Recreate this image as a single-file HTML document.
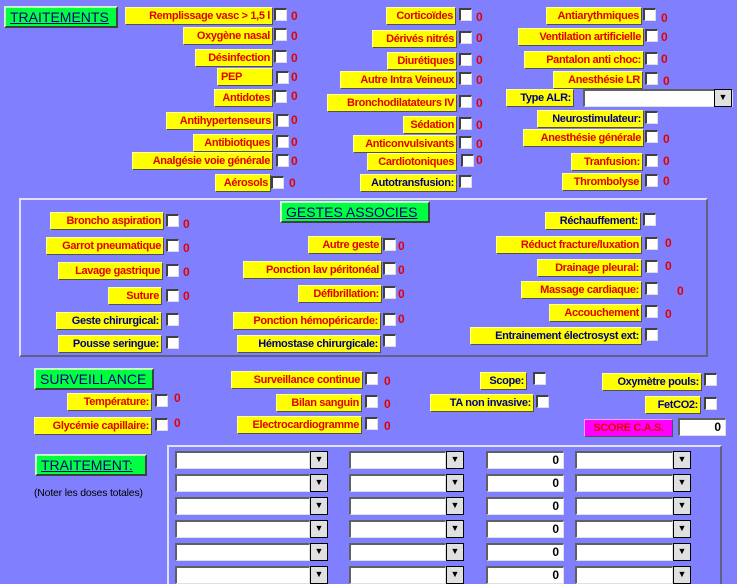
<!DOCTYPE html>
<html><head><meta charset="utf-8"><style>
html,body{margin:0;width:737px;height:584px;overflow:hidden}
body{background:#8080ff;position:relative;font-family:"Liberation Sans",sans-serif}
.l{position:absolute;height:18px;line-height:16px;background:#ffff00;color:#e00000;font-weight:bold;font-size:11px;letter-spacing:-0.35px;text-align:right;padding-right:2px;box-sizing:border-box;white-space:nowrap;overflow:hidden;border:1px solid;border-color:#ffffa0 #505050 #505050 #ffffa0}
.b{color:#000080}
.c{position:absolute;width:13px;height:13px;background:#fff;box-sizing:border-box;border-top:2px solid #404040;border-left:2px solid #404040;border-right:1px solid #ddd;border-bottom:1px solid #ddd}
.z{position:absolute;color:#e00000;font-weight:bold;font-size:12px}
.g{position:absolute;background:#00ff40;color:#000080;font-size:14px;line-height:18px;height:22px;box-sizing:border-box;padding-left:4px;border:2px solid;border-color:#c0ffc0 #404040 #404040 #c0ffc0;white-space:nowrap;overflow:hidden}
.i{position:absolute;height:18px;background:#fff;box-sizing:border-box;border-top:2px solid #606060;border-left:2px solid #606060;border-bottom:1px solid #e0e0e0;border-right:1px solid #e0e0e0;font:bold 12px "Liberation Sans",sans-serif;text-align:right;padding-right:4px;line-height:15px}
.k{position:absolute;width:18px;height:18px;background:#e0e0e0;box-sizing:border-box;border:1px solid #000;font-size:9px;text-align:center;line-height:15px}
.box{position:absolute;border:2px solid;border-color:#e0e0ff #606080 #606080 #e0e0ff;box-sizing:border-box}
</style></head><body>
<div class="g" style="left:4px;top:6px;width:114px;text-decoration:underline">TRAITEMENTS</div>

<div class="l" style="left:125px;top:7px;width:148px">Remplissage vasc &gt; 1,5 l</div><div class="c" style="left:274px;top:8px"></div><div class="z" style="left:291px;top:9px">0</div>
<div class="l" style="left:183px;top:27px;width:90px">Oxygène nasal</div><div class="c" style="left:274px;top:28px"></div><div class="z" style="left:291px;top:29px">0</div>
<div class="l" style="left:195px;top:49px;width:78px">Désinfection</div><div class="c" style="left:274px;top:50px"></div><div class="z" style="left:291px;top:51px">0</div>
<div class="l" style="left:217px;top:68px;width:56px;text-align:left;padding-left:3px">PEP</div><div class="c" style="left:276px;top:71px"></div><div class="z" style="left:291px;top:70px">0</div>
<div class="l" style="left:214px;top:89px;width:59px">Antidotes</div><div class="c" style="left:274px;top:90px"></div><div class="z" style="left:291px;top:89px">0</div>
<div class="l" style="left:166px;top:112px;width:108px">Antihypertenseurs</div><div class="c" style="left:276px;top:114px"></div><div class="z" style="left:291px;top:113px">0</div>
<div class="l" style="left:193px;top:134px;width:80px">Antibiotiques</div><div class="c" style="left:276px;top:135px"></div><div class="z" style="left:291px;top:135px">0</div>
<div class="l" style="left:132px;top:152px;width:141px">Analgésie voie générale</div><div class="c" style="left:276px;top:154px"></div><div class="z" style="left:291px;top:154px">0</div>
<div class="l" style="left:215px;top:174px;width:56px">Aérosols</div><div class="c" style="left:271px;top:176px"></div><div class="z" style="left:289px;top:176px">0</div>

<div class="l" style="left:386px;top:7px;width:70px">Corticoïdes</div><div class="c" style="left:459px;top:8px"></div><div class="z" style="left:476px;top:10px">0</div>
<div class="l" style="left:372px;top:30px;width:85px">Dérivés nitrés</div><div class="c" style="left:459px;top:31px"></div><div class="z" style="left:476px;top:31px">0</div>
<div class="l" style="left:387px;top:52px;width:70px">Diurétiques</div><div class="c" style="left:459px;top:53px"></div><div class="z" style="left:476px;top:53px">0</div>
<div class="l" style="left:340px;top:71px;width:117px">Autre Intra Veineux</div><div class="c" style="left:459px;top:72px"></div><div class="z" style="left:476px;top:73px">0</div>
<div class="l" style="left:327px;top:94px;width:130px">Bronchodilatateurs IV</div><div class="c" style="left:459px;top:95px"></div><div class="z" style="left:476px;top:96px">0</div>
<div class="l" style="left:403px;top:116px;width:54px">Sédation</div><div class="c" style="left:459px;top:117px"></div><div class="z" style="left:476px;top:118px">0</div>
<div class="l" style="left:353px;top:135px;width:104px">Anticonvulsivants</div><div class="c" style="left:459px;top:136px"></div><div class="z" style="left:476px;top:137px">0</div>
<div class="l" style="left:367px;top:153px;width:90px">Cardiotoniques</div><div class="c" style="left:461px;top:154px"></div><div class="z" style="left:476px;top:153px">0</div>
<div class="l b" style="left:360px;top:174px;width:97px">Autotransfusion:</div><div class="c" style="left:459px;top:175px"></div>

<div class="l" style="left:546px;top:7px;width:96px">Antiarythmiques</div><div class="c" style="left:643px;top:8px"></div><div class="z" style="left:661px;top:11px">0</div>
<div class="l" style="left:518px;top:28px;width:126px">Ventilation artificielle</div><div class="c" style="left:645px;top:29px"></div><div class="z" style="left:661px;top:30px">0</div>
<div class="l" style="left:524px;top:51px;width:120px">Pantalon anti choc:</div><div class="c" style="left:645px;top:52px"></div><div class="z" style="left:661px;top:52px">0</div>
<div class="l" style="left:553px;top:71px;width:90px">Anesthésie LR</div><div class="c" style="left:645px;top:72px"></div><div class="z" style="left:663px;top:74px">0</div>
<div class="l b" style="left:506px;top:89px;width:68px">Type ALR:</div>
<div class="i" style="left:583px;top:89px;width:150px"></div><div class="k" style="left:714px;top:89px">&#9660;</div>
<div class="l b" style="left:537px;top:110px;width:107px">Neurostimulateur:</div><div class="c" style="left:645px;top:111px"></div>
<div class="l" style="left:523px;top:129px;width:121px">Anesthésie générale</div><div class="c" style="left:645px;top:130px"></div><div class="z" style="left:663px;top:132px">0</div>
<div class="l" style="left:571px;top:153px;width:72px">Tranfusion:</div><div class="c" style="left:645px;top:154px"></div><div class="z" style="left:663px;top:154px">0</div>
<div class="l" style="left:562px;top:173px;width:80px">Thrombolyse</div><div class="c" style="left:645px;top:174px"></div><div class="z" style="left:663px;top:174px">0</div>

<div class="box" style="left:19px;top:198px;width:689px;height:159px"></div>
<div class="g" style="left:280px;top:201px;width:150px;text-decoration:underline">GESTES ASSOCIES</div>
<div class="l" style="left:50px;top:212px;width:114px">Broncho aspiration</div><div class="c" style="left:166px;top:214px"></div><div class="z" style="left:183px;top:217px">0</div>
<div class="l" style="left:46px;top:237px;width:118px">Garrot pneumatique</div><div class="c" style="left:166px;top:239px"></div><div class="z" style="left:183px;top:241px">0</div>
<div class="l" style="left:58px;top:262px;width:105px">Lavage gastrique</div><div class="c" style="left:166px;top:264px"></div><div class="z" style="left:183px;top:265px">0</div>
<div class="l" style="left:108px;top:287px;width:54px">Suture</div><div class="c" style="left:166px;top:289px"></div><div class="z" style="left:183px;top:289px">0</div>
<div class="l b" style="left:56px;top:312px;width:106px">Geste chirurgical:</div><div class="c" style="left:166px;top:313px"></div>
<div class="l b" style="left:58px;top:335px;width:104px">Pousse seringue:</div><div class="c" style="left:166px;top:336px"></div>
<div class="l" style="left:308px;top:236px;width:74px">Autre geste</div><div class="c" style="left:383px;top:238px"></div><div class="z" style="left:398px;top:239px">0</div>
<div class="l" style="left:243px;top:261px;width:139px">Ponction lav péritonéal</div><div class="c" style="left:383px;top:262px"></div><div class="z" style="left:398px;top:263px">0</div>
<div class="l" style="left:298px;top:285px;width:84px">Défibrillation:</div><div class="c" style="left:383px;top:286px"></div><div class="z" style="left:398px;top:287px">0</div>
<div class="l" style="left:233px;top:312px;width:148px">Ponction hémopéricarde:</div><div class="c" style="left:383px;top:313px"></div><div class="z" style="left:398px;top:312px">0</div>
<div class="l b" style="left:237px;top:335px;width:144px">Hémostase chirurgicale:</div><div class="c" style="left:383px;top:334px"></div>
<div class="l b" style="left:545px;top:212px;width:96px">Réchauffement:</div><div class="c" style="left:643px;top:213px"></div>
<div class="l" style="left:496px;top:236px;width:146px">Réduct fracture/luxation</div><div class="c" style="left:645px;top:237px"></div><div class="z" style="left:665px;top:236px">0</div>
<div class="l" style="left:537px;top:259px;width:105px">Drainage pleural:</div><div class="c" style="left:645px;top:260px"></div><div class="z" style="left:665px;top:259px">0</div>
<div class="l" style="left:521px;top:281px;width:121px">Massage cardiaque:</div><div class="c" style="left:645px;top:282px"></div><div class="z" style="left:677px;top:284px">0</div>
<div class="l" style="left:549px;top:304px;width:93px">Accouchement</div><div class="c" style="left:645px;top:305px"></div><div class="z" style="left:665px;top:307px">0</div>
<div class="l b" style="left:470px;top:327px;width:172px">Entrainement électrosyst ext:</div><div class="c" style="left:645px;top:328px"></div>

<div class="g" style="left:34px;top:368px;width:120px">SURVEILLANCE</div>
<div class="l" style="left:67px;top:393px;width:85px">Température:</div><div class="c" style="left:155px;top:394px"></div><div class="z" style="left:174px;top:391px">0</div>
<div class="l" style="left:34px;top:417px;width:118px">Glycémie capillaire:</div><div class="c" style="left:155px;top:418px"></div><div class="z" style="left:174px;top:416px">0</div>
<div class="l" style="left:231px;top:371px;width:132px">Surveillance continue</div><div class="c" style="left:365px;top:372px"></div><div class="z" style="left:384px;top:374px">0</div>
<div class="l" style="left:276px;top:394px;width:86px">Bilan sanguin</div><div class="c" style="left:365px;top:395px"></div><div class="z" style="left:384px;top:397px">0</div>
<div class="l" style="left:237px;top:416px;width:125px">Electrocardiogramme</div><div class="c" style="left:365px;top:417px"></div><div class="z" style="left:384px;top:419px">0</div>
<div class="l b" style="left:480px;top:372px;width:47px">Scope:</div><div class="c" style="left:533px;top:372px"></div>
<div class="l b" style="left:430px;top:394px;width:104px">TA non invasive:</div><div class="c" style="left:536px;top:395px"></div>
<div class="l b" style="left:602px;top:373px;width:100px">Oxymètre pouls:</div><div class="c" style="left:704px;top:373px"></div>
<div class="l b" style="left:645px;top:396px;width:56px">FetCO2:</div><div class="c" style="left:704px;top:397px"></div>
<div class="l" style="left:584px;top:419px;width:89px;background:#ff00ff;border-color:#ffa0ff #505050 #505050 #ffa0ff;text-align:center;padding:0">SCORE C.A.S.</div>
<div class="i" style="left:678px;top:418px;width:48px">0</div>

<div class="g" style="left:35px;top:454px;width:112px;text-decoration:underline">TRAITEMENT:</div>
<div style="position:absolute;left:34px;top:487px;font-size:10.5px;color:#000;letter-spacing:-0.2px">(Noter les doses totales)</div>
<div class="box" style="left:167px;top:445px;width:555px;height:141px"></div>

<div class="i" style="left:175px;top:451px;width:135px"></div><div class="k" style="left:310px;top:451px">&#9660;</div><div class="i" style="left:349px;top:451px;width:97px"></div><div class="k" style="left:446px;top:451px">&#9660;</div><div class="i" style="left:486px;top:451px;width:78px">0</div><div class="i" style="left:575px;top:451px;width:98px"></div><div class="k" style="left:673px;top:451px">&#9660;</div>
<div class="i" style="left:175px;top:474px;width:135px"></div><div class="k" style="left:310px;top:474px">&#9660;</div><div class="i" style="left:349px;top:474px;width:97px"></div><div class="k" style="left:446px;top:474px">&#9660;</div><div class="i" style="left:486px;top:474px;width:78px">0</div><div class="i" style="left:575px;top:474px;width:98px"></div><div class="k" style="left:673px;top:474px">&#9660;</div>
<div class="i" style="left:175px;top:497px;width:135px"></div><div class="k" style="left:310px;top:497px">&#9660;</div><div class="i" style="left:349px;top:497px;width:97px"></div><div class="k" style="left:446px;top:497px">&#9660;</div><div class="i" style="left:486px;top:497px;width:78px">0</div><div class="i" style="left:575px;top:497px;width:98px"></div><div class="k" style="left:673px;top:497px">&#9660;</div>
<div class="i" style="left:175px;top:520px;width:135px"></div><div class="k" style="left:310px;top:520px">&#9660;</div><div class="i" style="left:349px;top:520px;width:97px"></div><div class="k" style="left:446px;top:520px">&#9660;</div><div class="i" style="left:486px;top:520px;width:78px">0</div><div class="i" style="left:575px;top:520px;width:98px"></div><div class="k" style="left:673px;top:520px">&#9660;</div>
<div class="i" style="left:175px;top:543px;width:135px"></div><div class="k" style="left:310px;top:543px">&#9660;</div><div class="i" style="left:349px;top:543px;width:97px"></div><div class="k" style="left:446px;top:543px">&#9660;</div><div class="i" style="left:486px;top:543px;width:78px">0</div><div class="i" style="left:575px;top:543px;width:98px"></div><div class="k" style="left:673px;top:543px">&#9660;</div>
<div class="i" style="left:175px;top:566px;width:135px"></div><div class="k" style="left:310px;top:566px">&#9660;</div><div class="i" style="left:349px;top:566px;width:97px"></div><div class="k" style="left:446px;top:566px">&#9660;</div><div class="i" style="left:486px;top:566px;width:78px">0</div><div class="i" style="left:575px;top:566px;width:98px"></div><div class="k" style="left:673px;top:566px">&#9660;</div>
</body></html>
